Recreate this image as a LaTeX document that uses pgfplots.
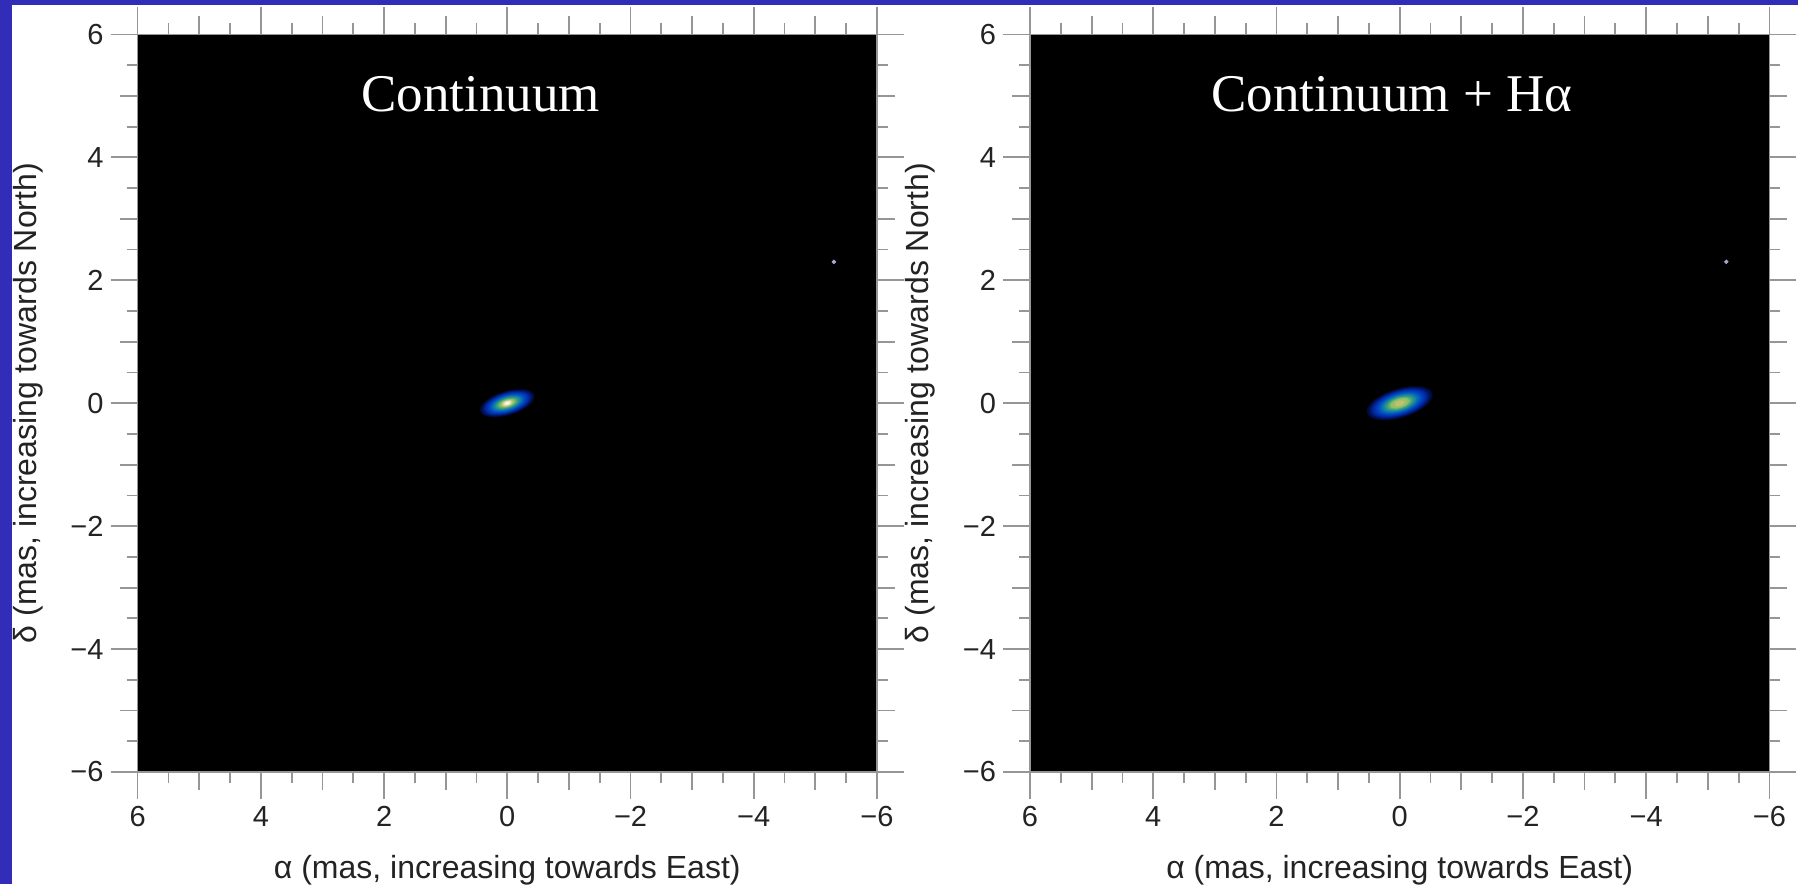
\documentclass[border=0pt]{standalone}
\usepackage{fontspec}
\setmainfont{Liberation Sans}
\newfontfamily\timesfont{Liberation Serif}
\usepackage{pgfplots}
\pgfplotsset{compat=1.18}

\definecolor{frameblue}{RGB}{50,45,185}
\definecolor{tickgray}{RGB}{150,150,150}
\definecolor{labtext}{RGB}{35,35,35}
% blob colours, outer to inner
\definecolor{B1}{RGB}{0,10,60}
\definecolor{B2}{RGB}{0,20,100}
\definecolor{B3}{RGB}{0,35,140}
\definecolor{B4}{RGB}{0,50,175}
\definecolor{B5}{RGB}{0,65,190}
\definecolor{B6}{RGB}{5,85,190}
\definecolor{B7}{RGB}{10,110,180}
\definecolor{B8}{RGB}{25,135,160}
\definecolor{B9}{RGB}{50,155,130}
\definecolor{B10}{RGB}{90,175,110}
\definecolor{B11}{RGB}{140,190,110}
\definecolor{B12}{RGB}{195,205,140}
\definecolor{B13}{RGB}{235,225,190}
\definecolor{B14}{RGB}{250,245,235}
\definecolor{R12}{RGB}{165,190,105}
\definecolor{R13}{RGB}{190,195,110}
\definecolor{dotc}{RGB}{180,160,210}

\pgfplotsset{
  imgaxis/.style={
    scale only axis, width=369.7pt, height=368.8pt,
    xmin=-6, xmax=6, ymin=-6, ymax=6, x dir=reverse,
    axis background/.style={fill=black},
    xtick={-6,-4,...,6}, ytick={-6,-4,...,6},
    xticklabels={−6,−4,−2,0,2,4,6},
    yticklabels={−6,−4,−2,0,2,4,6},
    minor tick num=3,
    extra x ticks={-5,-3,-1,1,3,5}, extra y ticks={-5,-3,-1,1,3,5},
    extra x tick labels={}, extra y tick labels={},
    extra tick style={major tick length=9pt},
    tick align=outside, major tick length=13.5pt, minor tick length=5.5pt,
    tick pos=both, ticklabel pos=left,
    every tick/.style={tickgray, line width=0.9pt},
    axis line style={tickgray, line width=0.8pt},
    tick label style={font=\fontsize{14.5}{16}\selectfont, text=labtext},
    label style={font=\fontsize{16}{18}\selectfont, text=labtext},
    xlabel={α (mas, increasing towards East)},
    ylabel={δ (mas, increasing towards North)},
    xlabel style={at={(axis description cs:0.5,-0.133)}, anchor=center},
    ylabel style={at={(axis description cs:-0.148,0.5)}, anchor=center},
  },
  blob/.style n args={3}{only marks, mark=*, mark size=#1,
    mark options={color=#2, line width=0.1pt, rotate=17, yscale=#3}},
}

\begin{document}
\begin{tikzpicture}
\path[use as bounding box, fill=white] (0,0) rectangle (899pt,442pt);
\fill[frameblue] (0,0) rectangle (6pt,442pt);
\fill[frameblue] (0,439.5pt) rectangle (899pt,442pt);

% ---------- left panel ----------
\begin{axis}[imgaxis, at={(68.8pt,56pt)}, anchor=south west]
\addplot[blob={14pt}{B1}{0.42}] coordinates {(0,0)};
\addplot[blob={13pt}{B2}{0.42}] coordinates {(0,0)};
\addplot[blob={12pt}{B3}{0.42}] coordinates {(0,0)};
\addplot[blob={11pt}{B4}{0.42}] coordinates {(0,0)};
\addplot[blob={10pt}{B5}{0.42}] coordinates {(0,0)};
\addplot[blob={9pt}{B6}{0.42}] coordinates {(0,0)};
\addplot[blob={8pt}{B7}{0.42}] coordinates {(0,0)};
\addplot[blob={7pt}{B8}{0.42}] coordinates {(0,0)};
\addplot[blob={6pt}{B9}{0.42}] coordinates {(0,0)};
\addplot[blob={5pt}{B10}{0.43}] coordinates {(0,0)};
\addplot[blob={4pt}{B11}{0.44}] coordinates {(0,0)};
\addplot[blob={3pt}{B12}{0.46}] coordinates {(0,0)};
\addplot[blob={2pt}{B13}{0.5}] coordinates {(0,0)};
\addplot[blob={1.2pt}{B14}{0.55}] coordinates {(0,0)};
\addplot[only marks, mark=*, mark size=0.9pt, mark options={color=dotc}] coordinates {(-5.3,2.3)};
\node[text=white, font=\timesfont\fontsize{26.5}{30}\selectfont] at (axis cs:0.43,5.03) {Continuum};
\end{axis}

% ---------- right panel ----------
\begin{axis}[imgaxis, at={(515pt,56pt)}, anchor=south west]
\addplot[blob={17pt}{B1}{0.42}] coordinates {(0,0)};
\addplot[blob={15.8pt}{B2}{0.42}] coordinates {(0,0)};
\addplot[blob={14.6pt}{B3}{0.42}] coordinates {(0,0)};
\addplot[blob={13.4pt}{B4}{0.42}] coordinates {(0,0)};
\addplot[blob={12.2pt}{B5}{0.42}] coordinates {(0,0)};
\addplot[blob={11pt}{B6}{0.42}] coordinates {(0,0)};
\addplot[blob={9.8pt}{B7}{0.42}] coordinates {(0,0)};
\addplot[blob={8.6pt}{B8}{0.42}] coordinates {(0,0)};
\addplot[blob={7.4pt}{B9}{0.42}] coordinates {(0,0)};
\addplot[blob={6.2pt}{B10}{0.43}] coordinates {(0,0)};
\addplot[blob={5pt}{B11}{0.44}] coordinates {(0,0)};
\addplot[blob={3.7pt}{R12}{0.46}] coordinates {(0,0)};
\addplot[blob={2.4pt}{R13}{0.5}] coordinates {(0,0)};
\addplot[only marks, mark=*, mark size=0.9pt, mark options={color=dotc}] coordinates {(-5.3,2.3)};
\node[text=white, font=\timesfont\fontsize{26.5}{30}\selectfont] at (axis cs:0.13,5.03) {Continuum + Hα};
\end{axis}
\end{tikzpicture}
\end{document}
